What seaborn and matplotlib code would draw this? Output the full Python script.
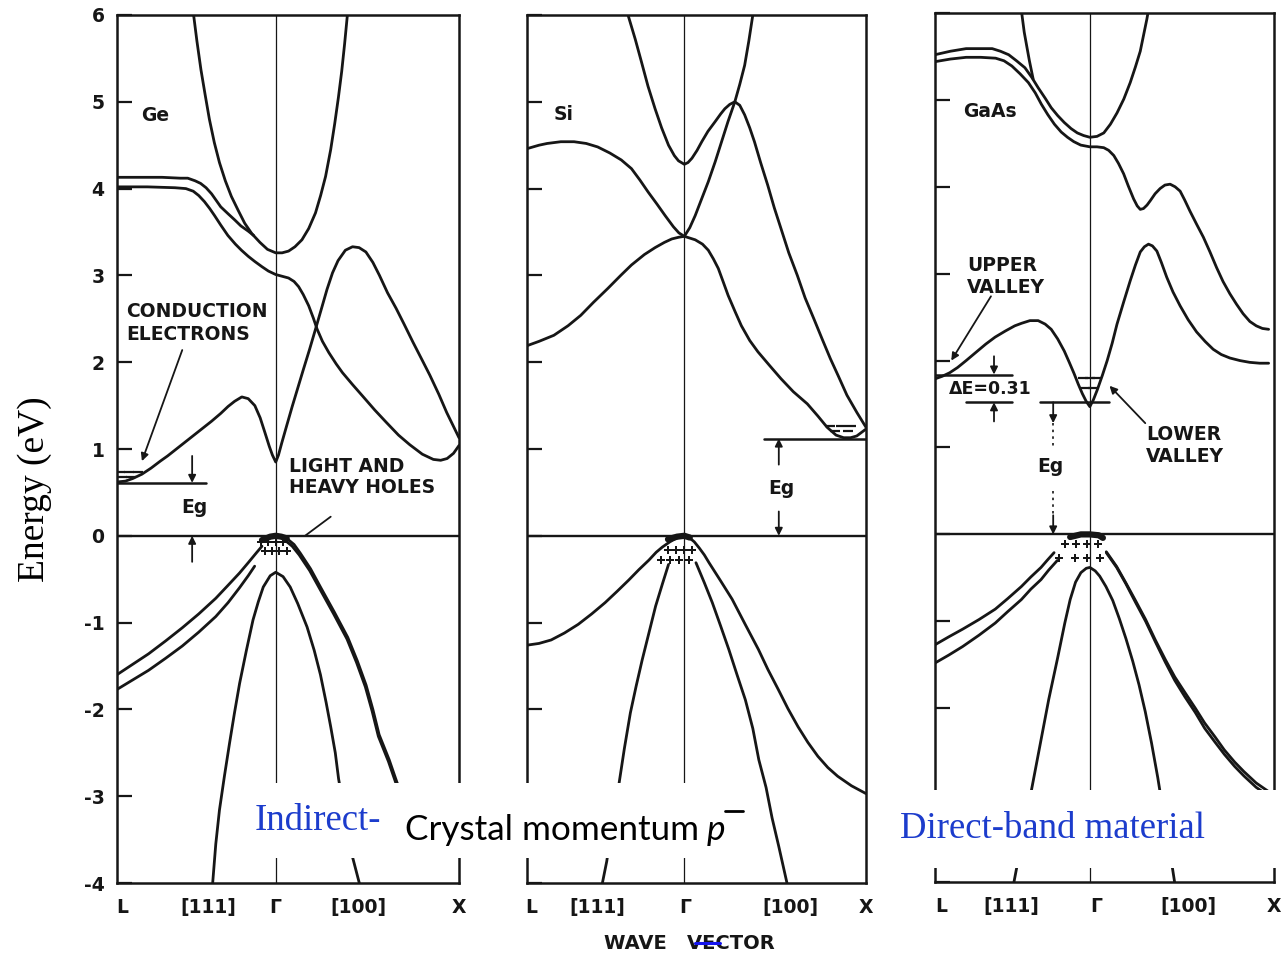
import matplotlib
matplotlib.use("Agg")
import numpy as np
import pandas as pd
import matplotlib.pyplot as plt
import seaborn as sns
from matplotlib.patches import Rectangle
from matplotlib.lines import Line2D

# k along L - Gamma - X in units of 2*pi/a (L = -0.866, Gamma = 0, X = 1), E in eV
K_L, K_X = -0.866, 1.0
Y_TICKS = [-4, -3, -2, -1, 0, 1, 2, 3, 4, 5, 6]
Y_TICK_LABELS = ["-4", "-3", "-2", "-1", "0", "1", "2", "3", "4", "5", "6"]
X_TICK_LABELS = ["L", "[111]", "Γ", "[100]", "X"]

# ---------------- Ge ----------------
GE_CB_PARABOLA = [(-0.448, 6.0), (-0.43, 5.7), (-0.408, 5.37), (-0.385, 5.08), (-0.362, 4.80),
                  (-0.335, 4.53), (-0.307, 4.30), (-0.275, 4.09), (-0.242, 3.91), (-0.205, 3.75),
                  (-0.169, 3.60), (-0.13, 3.48), (-0.086, 3.38), (-0.045, 3.30), (0.0, 3.26),
                  (0.035, 3.26), (0.07, 3.28), (0.105, 3.33), (0.143, 3.41), (0.18, 3.54),
                  (0.217, 3.72), (0.245, 3.92), (0.272, 4.14), (0.30, 4.45), (0.322, 4.75),
                  (0.342, 5.05), (0.36, 5.35), (0.376, 5.67), (0.391, 6.0)]
GE_CB_UPPER_L = [(-0.866, 4.13), (-0.75, 4.13), (-0.62, 4.13), (-0.52, 4.12), (-0.48, 4.12),
                 (-0.44, 4.09), (-0.41, 4.06), (-0.38, 4.01), (-0.35, 3.94), (-0.32, 3.85),
                 (-0.30, 3.79), (-0.26, 3.71), (-0.224, 3.64), (-0.19, 3.57), (-0.15, 3.51),
                 (-0.12, 3.46)]
GE_CB_LOWER = [(-0.866, 4.02), (-0.70, 4.02), (-0.55, 4.01), (-0.49, 4.0), (-0.45, 3.97),
               (-0.42, 3.92), (-0.389, 3.85), (-0.36, 3.77), (-0.334, 3.69), (-0.30, 3.58),
               (-0.261, 3.46), (-0.22, 3.36), (-0.187, 3.29), (-0.15, 3.22), (-0.114, 3.16),
               (-0.075, 3.10), (-0.04, 3.05), (0.0, 3.01), (0.035, 2.99), (0.07, 2.97),
               (0.10, 2.93), (0.125, 2.87), (0.15, 2.78), (0.18, 2.65), (0.205, 2.51),
               (0.226, 2.38), (0.255, 2.24), (0.29, 2.11), (0.33, 1.98), (0.364, 1.88),
               (0.42, 1.74), (0.474, 1.61), (0.54, 1.45), (0.602, 1.31), (0.67, 1.16),
               (0.731, 1.05), (0.80, 0.94), (0.86, 0.88), (0.90, 0.87), (0.935, 0.89),
               (0.97, 0.95), (1.0, 1.04)]
GE_CB_LOWEST = [(-0.866, 0.62), (-0.82, 0.63), (-0.78, 0.66), (-0.73, 0.71), (-0.68, 0.78),
                (-0.63, 0.86), (-0.59, 0.92), (-0.50, 1.07), (-0.41, 1.22), (-0.35, 1.32),
                (-0.30, 1.41), (-0.26, 1.49), (-0.224, 1.55), (-0.185, 1.60), (-0.15, 1.58),
                (-0.114, 1.50), (-0.085, 1.36), (-0.059, 1.19), (-0.035, 1.03), (-0.018, 0.93),
                (0.0, 0.85), (0.015, 0.93), (0.033, 1.07), (0.06, 1.27), (0.09, 1.49),
                (0.12, 1.70), (0.15, 1.91), (0.185, 2.15), (0.217, 2.38), (0.25, 2.62),
                (0.28, 2.84), (0.31, 3.03), (0.34, 3.17), (0.38, 3.29), (0.419, 3.33),
                (0.455, 3.32), (0.492, 3.27), (0.53, 3.15), (0.566, 3.0), (0.61, 2.80),
                (0.657, 2.62), (0.70, 2.44), (0.749, 2.23), (0.80, 2.02), (0.841, 1.85),
                (0.89, 1.63), (0.933, 1.42), (0.97, 1.26), (1.0, 1.13)]
GE_VB_UPPER_L = [(-0.866, -1.60), (-0.78, -1.48), (-0.694, -1.36), (-0.60, -1.21), (-0.51, -1.06),
                 (-0.42, -0.90), (-0.327, -0.72), (-0.26, -0.57), (-0.198, -0.43), (-0.15, -0.31),
                 (-0.107, -0.20), (-0.075, -0.12)]
GE_VB_LOWER_L = [(-0.866, -1.77), (-0.78, -1.66), (-0.694, -1.55), (-0.60, -1.41), (-0.51, -1.27),
                 (-0.42, -1.11), (-0.327, -0.93), (-0.26, -0.77), (-0.198, -0.60), (-0.15, -0.46),
                 (-0.115, -0.35)]
GE_VB_HEAVY_R = [(0.06, -0.03), (0.10, -0.10), (0.134, -0.20), (0.19, -0.38), (0.244, -0.59),
                 (0.32, -0.88), (0.393, -1.17), (0.445, -1.44), (0.493, -1.72), (0.53, -2.0),
                 (0.564, -2.29), (0.619, -2.58), (0.663, -2.85), (0.75, -3.12), (0.87, -3.32),
                 (1.0, -3.42)]
GE_VB_LIGHT_R = [(0.05, -0.05), (0.09, -0.12), (0.128, -0.22), (0.185, -0.40), (0.24, -0.61),
                 (0.316, -0.90), (0.389, -1.19), (0.441, -1.46), (0.489, -1.74), (0.526, -2.02),
                 (0.56, -2.31), (0.615, -2.60), (0.659, -2.87), (0.745, -3.14), (0.865, -3.34),
                 (1.0, -3.44)]
GE_VB_SPLIT = [(-0.344, -4.0), (-0.327, -3.55), (-0.307, -3.16), (-0.28, -2.77), (-0.252, -2.39),
               (-0.225, -2.04), (-0.197, -1.70), (-0.16, -1.32), (-0.124, -0.97), (-0.095, -0.76),
               (-0.068, -0.59), (-0.03, -0.46), (0.0, -0.42), (0.04, -0.47), (0.079, -0.59),
               (0.12, -0.78), (0.171, -1.05), (0.21, -1.32), (0.244, -1.60), (0.275, -1.92),
               (0.30, -2.20), (0.325, -2.50), (0.343, -2.80), (0.38, -3.25), (0.419, -3.70),
               (0.456, -4.0)]
GE_VB_TOP = [(-0.075, -0.05), (-0.03, -0.01), (0.0, 0.0), (0.03, -0.01), (0.06, -0.03)]
GE_HOLES = [(-0.08, -0.07), (-0.04, -0.07), (0.0, -0.07), (0.04, -0.07),
            (-0.06, -0.17), (-0.02, -0.17), (0.02, -0.17), (0.06, -0.17)]
GE_ELECTRONS = [(-0.85, 0.73), (-0.80, 0.73), (-0.75, 0.73), (-0.84, 0.68), (-0.79, 0.68)]
GE_EG = 0.61

# ---------------- Si ----------------
SI_CB_UPPER = [(-0.31, 6.0), (-0.27, 5.72), (-0.236, 5.46), (-0.20, 5.18), (-0.161, 4.92),
               (-0.125, 4.70), (-0.087, 4.50), (-0.055, 4.38), (-0.032, 4.32), (0.0, 4.28),
               (0.02, 4.30), (0.042, 4.35), (0.07, 4.44), (0.096, 4.54), (0.13, 4.66),
               (0.169, 4.77), (0.20, 4.86), (0.223, 4.92), (0.25, 4.97), (0.278, 5.0),
               (0.305, 4.96), (0.332, 4.85), (0.36, 4.70), (0.386, 4.54), (0.42, 4.30),
               (0.459, 4.04), (0.495, 3.78), (0.532, 3.54), (0.575, 3.26), (0.622, 3.0),
               (0.665, 2.74), (0.713, 2.5), (0.76, 2.26), (0.804, 2.04), (0.85, 1.83),
               (0.895, 1.62), (0.95, 1.42), (1.0, 1.25)]
SI_CB_MIDDLE = [(-0.866, 4.46), (-0.80, 4.50), (-0.755, 4.52), (-0.68, 4.54), (-0.607, 4.54),
                (-0.54, 4.52), (-0.477, 4.48), (-0.41, 4.41), (-0.347, 4.33), (-0.291, 4.23),
                (-0.245, 4.10), (-0.199, 3.96), (-0.15, 3.82), (-0.106, 3.69), (-0.06, 3.56),
                (-0.03, 3.49), (0.0, 3.45), (0.03, 3.55), (0.06, 3.69), (0.095, 3.88),
                (0.132, 4.08), (0.17, 4.31), (0.205, 4.54), (0.24, 4.77), (0.278, 5.0),
                (0.305, 5.2), (0.332, 5.42), (0.355, 5.7), (0.377, 6.0)]
SI_CB_LOWEST = [(-0.866, 2.19), (-0.80, 2.24), (-0.718, 2.31), (-0.64, 2.42), (-0.57, 2.54),
                (-0.50, 2.69), (-0.421, 2.85), (-0.35, 3.0), (-0.291, 3.12), (-0.22, 3.24),
                (-0.161, 3.32), (-0.11, 3.38), (-0.069, 3.42), (-0.03, 3.44), (0.0, 3.45),
                (0.03, 3.43), (0.06, 3.41), (0.10, 3.36), (0.132, 3.29), (0.16, 3.19),
                (0.187, 3.08), (0.215, 2.92), (0.241, 2.77), (0.28, 2.58), (0.314, 2.42),
                (0.36, 2.25), (0.405, 2.12), (0.47, 1.96), (0.532, 1.81), (0.60, 1.66),
                (0.677, 1.52), (0.735, 1.38), (0.786, 1.25), (0.835, 1.16), (0.877, 1.13),
                (0.915, 1.13), (0.949, 1.15), (1.0, 1.23)]
SI_VB_HEAVY = [(-0.866, -1.26), (-0.80, -1.24), (-0.733, -1.20), (-0.66, -1.12), (-0.584, -1.02),
               (-0.51, -0.90), (-0.436, -0.77), (-0.37, -0.64), (-0.306, -0.51), (-0.25, -0.39),
               (-0.195, -0.28), (-0.155, -0.19), (-0.121, -0.13), (-0.08, -0.07), (-0.046, -0.03),
               (0.0, 0.0), (0.027, -0.02), (0.055, -0.07), (0.082, -0.14), (0.11, -0.22),
               (0.136, -0.31), (0.2, -0.52), (0.263, -0.73), (0.335, -1.02), (0.408, -1.31),
               (0.46, -1.54), (0.517, -1.77), (0.57, -1.99), (0.626, -2.20), (0.68, -2.38),
               (0.735, -2.54), (0.79, -2.67), (0.844, -2.77), (0.92, -2.88), (1.0, -2.97)]
SI_VB_LIGHT_L = [(-0.087, -0.33), (-0.12, -0.55), (-0.158, -0.81), (-0.195, -1.12), (-0.232, -1.43),
                 (-0.265, -1.73), (-0.297, -2.04), (-0.33, -2.45), (-0.362, -2.89), (-0.395, -3.30),
                 (-0.427, -3.75), (-0.451, -4.0)]
SI_VB_LIGHT_R = [(0.064, -0.31), (0.11, -0.54), (0.154, -0.77), (0.20, -1.04), (0.245, -1.31),
                 (0.29, -1.60), (0.336, -1.89), (0.377, -2.22), (0.41, -2.58), (0.45, -2.90),
                 (0.483, -3.25), (0.52, -3.58), (0.565, -4.0)]
SI_VB_TOP = [(-0.09, -0.04), (-0.04, -0.01), (0.0, 0.0), (0.03, -0.02)]
SI_HOLES = [(-0.09, -0.16), (-0.045, -0.16), (0.0, -0.16), (0.04, -0.16),
            (-0.13, -0.28), (-0.077, -0.28), (-0.031, -0.28), (0.024, -0.28)]
SI_ELECTRONS = [(0.80, 1.27), (0.86, 1.27), (0.92, 1.27), (0.83, 1.21), (0.90, 1.21)]
SI_EG = 1.12

# ---------------- GaAs ----------------
GA_CB_PARABOLA_L = [(-0.381, 6.0), (-0.367, 5.78), (-0.353, 5.62), (-0.338, 5.45), (-0.317, 5.24)]
GA_CB_UPPER = [(-0.866, 5.52), (-0.78, 5.56), (-0.692, 5.59), (-0.62, 5.59), (-0.546, 5.59),
               (-0.50, 5.56), (-0.454, 5.52), (-0.41, 5.45), (-0.363, 5.37), (-0.325, 5.26),
               (-0.289, 5.14), (-0.25, 5.02), (-0.216, 4.91), (-0.18, 4.82), (-0.143, 4.74),
               (-0.105, 4.67), (-0.07, 4.62), (-0.035, 4.59), (0.0, 4.57), (0.04, 4.58),
               (0.078, 4.62), (0.115, 4.72), (0.152, 4.85), (0.19, 5.01), (0.226, 5.2),
               (0.255, 5.38), (0.282, 5.56), (0.30, 5.74), (0.319, 5.93), (0.325, 6.0)]
GA_CB_LOWER = [(-0.866, 5.44), (-0.78, 5.47), (-0.692, 5.49), (-0.61, 5.49), (-0.527, 5.48),
               (-0.48, 5.45), (-0.436, 5.39), (-0.39, 5.30), (-0.344, 5.20), (-0.305, 5.08),
               (-0.271, 4.95), (-0.235, 4.83), (-0.198, 4.72), (-0.16, 4.63), (-0.125, 4.57),
               (-0.09, 4.52), (-0.051, 4.48), (0.0, 4.46), (0.04, 4.46), (0.078, 4.45),
               (0.105, 4.42), (0.134, 4.36), (0.16, 4.27), (0.189, 4.15), (0.215, 4.01),
               (0.245, 3.86), (0.265, 3.78), (0.282, 3.74), (0.30, 3.75), (0.32, 3.79),
               (0.338, 3.84), (0.365, 3.92), (0.393, 3.98), (0.42, 4.02), (0.449, 4.03),
               (0.477, 4.00), (0.505, 3.95), (0.53, 3.85), (0.56, 3.72), (0.597, 3.57),
               (0.635, 3.42), (0.672, 3.25), (0.709, 3.07), (0.745, 2.91), (0.783, 2.77),
               (0.82, 2.65), (0.857, 2.54), (0.895, 2.45), (0.931, 2.40), (0.965, 2.37),
               (1.0, 2.36)]
GA_CB_LOWEST = [(-0.866, 1.79), (-0.825, 1.82), (-0.784, 1.86), (-0.74, 1.92), (-0.692, 2.0),
                (-0.64, 2.09), (-0.582, 2.19), (-0.53, 2.27), (-0.473, 2.34), (-0.42, 2.40),
                (-0.381, 2.43), (-0.335, 2.46), (-0.289, 2.46), (-0.25, 2.42), (-0.216, 2.36),
                (-0.18, 2.25), (-0.143, 2.11), (-0.115, 1.98), (-0.088, 1.85), (-0.065, 1.73),
                (-0.042, 1.62), (-0.02, 1.53), (0.0, 1.47), (0.02, 1.55), (0.041, 1.66),
                (0.07, 1.83), (0.097, 2.0), (0.125, 2.2), (0.152, 2.42), (0.19, 2.68),
                (0.226, 2.92), (0.255, 3.1), (0.282, 3.25), (0.305, 3.31), (0.328, 3.34),
                (0.35, 3.32), (0.375, 3.26), (0.40, 3.13), (0.43, 2.96), (0.465, 2.79),
                (0.505, 2.63), (0.55, 2.47), (0.597, 2.33), (0.645, 2.22), (0.69, 2.13),
                (0.735, 2.07), (0.783, 2.03), (0.84, 2.0), (0.894, 1.98), (0.95, 1.97),
                (1.0, 1.97)]
GA_VB_UPPER_L = [(-0.866, -1.27), (-0.79, -1.18), (-0.711, -1.09), (-0.62, -0.98), (-0.529, -0.86),
                 (-0.46, -0.74), (-0.383, -0.60), (-0.33, -0.49), (-0.273, -0.38), (-0.235, -0.29),
                 (-0.20, -0.21)]
GA_VB_LOWER_L = [(-0.866, -1.48), (-0.79, -1.39), (-0.711, -1.29), (-0.62, -1.16), (-0.529, -1.02),
                 (-0.46, -0.89), (-0.383, -0.75), (-0.33, -0.63), (-0.273, -0.52), (-0.23, -0.41),
                 (-0.182, -0.30)]
GA_VB_HEAVY_R = [(0.092, -0.20), (0.15, -0.37), (0.202, -0.56), (0.255, -0.76), (0.312, -0.98),
                 (0.365, -1.21), (0.422, -1.44), (0.475, -1.64), (0.532, -1.82), (0.59, -2.0),
                 (0.642, -2.17), (0.70, -2.33), (0.752, -2.48), (0.81, -2.62), (0.862, -2.73),
                 (0.93, -2.86), (1.0, -2.96)]
GA_VB_LIGHT_R = [(0.092, -0.21), (0.15, -0.38), (0.202, -0.57), (0.255, -0.78), (0.312, -1.0),
                 (0.365, -1.23), (0.422, -1.47), (0.475, -1.68), (0.532, -1.87), (0.59, -2.05),
                 (0.642, -2.23), (0.70, -2.39), (0.752, -2.53), (0.81, -2.67), (0.862, -2.78),
                 (0.93, -2.91), (1.0, -3.01)]
GA_VB_SPLIT = [(-0.428, -4.04), (-0.38, -3.52), (-0.33, -2.98), (-0.28, -2.44), (-0.23, -1.90),
               (-0.18, -1.42), (-0.14, -1.02), (-0.11, -0.75), (-0.08, -0.55), (-0.05, -0.44),
               (-0.02, -0.39), (0.0, -0.38), (0.03, -0.42), (0.055, -0.48), (0.09, -0.60),
               (0.128, -0.76), (0.165, -0.97), (0.202, -1.20), (0.24, -1.46), (0.275, -1.73),
               (0.31, -2.04), (0.345, -2.40), (0.38, -2.80), (0.415, -3.25), (0.45, -3.68),
               (0.477, -4.04)]
GA_VB_TOP = [(-0.11, -0.03), (-0.05, 0.0), (0.0, 0.0), (0.05, -0.01), (0.073, -0.04)]
GA_HOLES = [(-0.137, -0.115), (-0.077, -0.115), (-0.018, -0.115), (0.046, -0.115),
            (-0.173, -0.27), (-0.082, -0.27), (-0.018, -0.27), (0.055, -0.27)]
GA_ELECTRONS = [(-0.04, 1.80), (0.0, 1.80), (0.04, 1.80), (-0.02, 1.69), (0.02, 1.69)]
GA_EG = 1.52
GA_L_MIN = 1.84

INK = "#161616"
BLUE = "#1c3ccc"
W, H = 1281, 955
LBL = dict(family="DejaVu Sans", fontweight="bold", fontsize=13.5, color=INK)


def px_rect(left, right, top, bottom):
    return [left / W, 1 - bottom / H, (right - left) / W, (bottom - top) / H]


def band_frame(bands):
    rows = [(name, k, e) for name, pts in bands.items() for k, e in pts]
    return pd.DataFrame(rows, columns=["band", "k", "E"])


def pts_frame(pts):
    return pd.DataFrame(pts, columns=["k", "E"])


def arrow(ax, xy_from, xy_to, lw=1.3, ms=11):
    ax.annotate("", xy=xy_to, xytext=xy_from,
                arrowprops=dict(arrowstyle="-|>", color=INK, lw=lw, mutation_scale=ms,
                                shrinkA=0, shrinkB=0))


def setup_panel(ax, bands, top_cap, holes, electrons, xtick_pos, show_ylabels):
    sns.lineplot(data=band_frame(bands), x="k", y="E", units="band", estimator=None,
                 sort=False, color=INK, lw=2.0, ax=ax, legend=False)
    sns.lineplot(data=pts_frame(top_cap), x="k", y="E", estimator=None, sort=False,
                 color=INK, lw=4.5, ax=ax, legend=False)
    sns.scatterplot(data=pts_frame(holes), x="k", y="E", marker="P", s=34, color=INK,
                    linewidth=0, ax=ax, legend=False, zorder=5)
    sns.scatterplot(data=pts_frame(electrons), x="k", y="E", marker="_", s=45, color=INK,
                    linewidth=1.6, ax=ax, legend=False, zorder=5)
    ax.axvline(0, color=INK, lw=0.9, zorder=1)
    ax.axhline(0, color=INK, lw=1.7, zorder=1)
    ax.set_xlim(K_L, K_X)
    ax.set_ylim(-4, 6)
    ax.set_xlabel("")
    ax.set_ylabel("")
    for sp in ax.spines.values():
        sp.set_visible(True)
        sp.set_linewidth(1.8)
        sp.set_color(INK)
    ax.set_yticks(Y_TICKS)
    ax.tick_params(axis="y", direction="in", length=11, width=1.6, color=INK,
                   left=True, right=False, labelleft=show_ylabels, pad=9)
    if show_ylabels:
        ax.set_yticklabels(Y_TICK_LABELS, fontsize=13.5, fontweight="bold", color=INK)
    ax.set_xticks(xtick_pos)
    ax.set_xticklabels(X_TICK_LABELS, fontsize=13.5, fontweight="bold", color=INK)
    ax.tick_params(axis="x", length=0, pad=11, bottom=True)


sns.set_style("white")
plt.rcParams["font.family"] = ["DejaVu Sans"]

fig = plt.figure(figsize=(W / 100, H / 100), dpi=100)
fig.patch.set_facecolor("white")

ax_ge = fig.add_axes(px_rect(117, 459, 15, 883))
ax_si = fig.add_axes(px_rect(527, 866, 15, 883))
ax_ga = fig.add_axes(px_rect(935, 1274, 13, 882))

# ---- Ge panel ----
setup_panel(ax_ge,
            {"parabola": GE_CB_PARABOLA, "upper": GE_CB_UPPER_L, "lower": GE_CB_LOWER,
             "lowest": GE_CB_LOWEST, "vb1": GE_VB_UPPER_L, "vb2": GE_VB_LOWER_L,
             "hh": GE_VB_HEAVY_R, "lh": GE_VB_LIGHT_R, "so": GE_VB_SPLIT},
            GE_VB_TOP, GE_HOLES, GE_ELECTRONS, [-0.839, -0.369, 0.0, 0.454, 1.0], True)
ax_ge.text(-0.655, 4.84, "Ge", ha="center", va="center", **LBL)
ax_ge.text(-0.814, 2.45, "CONDUCTION\nELECTRONS", ha="left", va="center", linespacing=1.3, **LBL)
arrow(ax_ge, (-0.51, 2.14), (-0.73, 0.86))
ax_ge.plot([K_L, -0.381], [GE_EG, GE_EG], color=INK, lw=1.8)
arrow(ax_ge, (-0.456, 0.92), (-0.456, GE_EG))
arrow(ax_ge, (-0.456, -0.30), (-0.456, 0.0))
ax_ge.text(-0.444, 0.33, "Eg", ha="center", va="center", **LBL)
ax_ge.text(0.07, 0.68, "LIGHT AND\nHEAVY HOLES", ha="left", va="center", linespacing=1.15, **LBL)
ax_ge.plot([0.30, 0.16], [0.22, 0.0], color=INK, lw=1.3)

# ---- Si panel ----
setup_panel(ax_si,
            {"upper": SI_CB_UPPER, "middle": SI_CB_MIDDLE, "lowest": SI_CB_LOWEST,
             "hh": SI_VB_HEAVY, "lhl": SI_VB_LIGHT_L, "lhr": SI_VB_LIGHT_R},
            SI_VB_TOP, SI_HOLES, SI_ELECTRONS, [-0.84, -0.478, 0.007, 0.584, 0.997], False)
ax_si.text(-0.665, 4.85, "Si", ha="center", va="center", **LBL)
ax_si.plot([0.437, K_X], [SI_EG, SI_EG], color=INK, lw=1.8)
arrow(ax_si, (0.52, 0.82), (0.52, SI_EG))
arrow(ax_si, (0.52, 0.28), (0.52, 0.0))
ax_si.text(0.535, 0.55, "Eg", ha="center", va="center", **LBL)

# ---- GaAs panel ----
setup_panel(ax_ga,
            {"parabola": GA_CB_PARABOLA_L, "upper": GA_CB_UPPER, "lower": GA_CB_LOWER,
             "lowest": GA_CB_LOWEST, "vb1": GA_VB_UPPER_L, "vb2": GA_VB_LOWER_L,
             "hh": GA_VB_HEAVY_R, "lh": GA_VB_LIGHT_R, "so": GA_VB_SPLIT},
            GA_VB_TOP, GA_HOLES, GA_ELECTRONS, [-0.83, -0.437, 0.037, 0.553, 1.03], False)
ax_ga.text(-0.56, 4.87, "GaAs", ha="center", va="center", **LBL)
ax_ga.text(-0.685, 2.97, "UPPER\nVALLEY", ha="left", va="center", linespacing=1.2, **LBL)
arrow(ax_ga, (-0.553, 2.74), (-0.775, 2.0))
ax_ga.plot([K_L, -0.437], [GA_L_MIN, GA_L_MIN], color=INK, lw=1.8)
ax_ga.plot([-0.69, -0.437], [GA_EG, GA_EG], color=INK, lw=1.8)
arrow(ax_ga, (-0.536, 2.05), (-0.536, GA_L_MIN))
arrow(ax_ga, (-0.536, 1.30), (-0.536, GA_EG))
ax_ga.text(-0.557, 1.67, "ΔE=0.31", ha="center", va="center",
           **{**LBL, "fontsize": 12.5})
ax_ga.plot([-0.279, 0.107], [GA_EG, GA_EG], color=INK, lw=1.8)
arrow(ax_ga, (-0.205, GA_EG), (-0.205, 1.28))
ax_ga.plot([-0.205, -0.205], [1.28, 0.98], color=INK, lw=1.2, ls=(0, (1.5, 2.5)))
ax_ga.text(-0.22, 0.78, "Eg", ha="center", va="center", **LBL)
ax_ga.plot([-0.205, -0.205], [0.50, 0.22], color=INK, lw=1.2, ls=(0, (1.5, 2.5)))
arrow(ax_ga, (-0.205, 0.22), (-0.205, 0.0))
ax_ga.text(0.316, 1.02, "LOWER\nVALLEY", ha="left", va="center", linespacing=1.2, **LBL)
arrow(ax_ga, (0.31, 1.28), (0.11, 1.71))

fig.text(689 / W, 1 - 943 / H, "WAVE   VECTOR", ha="center", va="center",
         fontsize=14, fontweight="bold", color=INK)
fig.add_artist(Line2D([695 / W, 720 / W], [1 - 943 / H, 1 - 943 / H],
                      transform=fig.transFigure, color="#1515ee", lw=2.2, zorder=12))

# ---- slide overlay: white boxes and captions ----
fig.add_artist(Rectangle((240 / W, 1 - 858 / H), 512 / W, 75 / H, transform=fig.transFigure,
                         facecolor="white", edgecolor="none", zorder=10))
fig.add_artist(Rectangle((890 / W, 1 - 868 / H), 391 / W, 78 / H, transform=fig.transFigure,
                         facecolor="white", edgecolor="none", zorder=10))

serif = ["Liberation Serif", "DejaVu Serif"]
fig.text(35 / W, 1 - 489 / H, "Energy (eV)", rotation=90, ha="center", va="center",
         family=serif, fontsize=27, color="black", zorder=11)
fig.text(255 / W, 1 - 830 / H, "Indirect-", ha="left", va="baseline",
         family=serif, fontsize=26.5, color=BLUE, zorder=11)
fig.text(900 / W, 1 - 838 / H, "Direct-band material", ha="left", va="baseline",
         family=serif, fontsize=26.5, color=BLUE, zorder=11)
fig.text(405 / W, 1 - 840 / H, "Crystal momentum", ha="left", va="baseline",
         family=["Lato", "DejaVu Sans"], fontsize=25.3, color="black", zorder=11)
fig.text(707 / W, 1 - 840 / H, "p", ha="left", va="baseline", style="italic",
         family=["Lato", "DejaVu Sans"], fontsize=25.3, color="black", zorder=11)
fig.add_artist(Line2D([725 / W, 743 / W], [1 - 811 / H, 1 - 811 / H],
                      transform=fig.transFigure, color="black", lw=2.0, zorder=12))

fig.savefig("out.png", dpi=100, facecolor="white")
